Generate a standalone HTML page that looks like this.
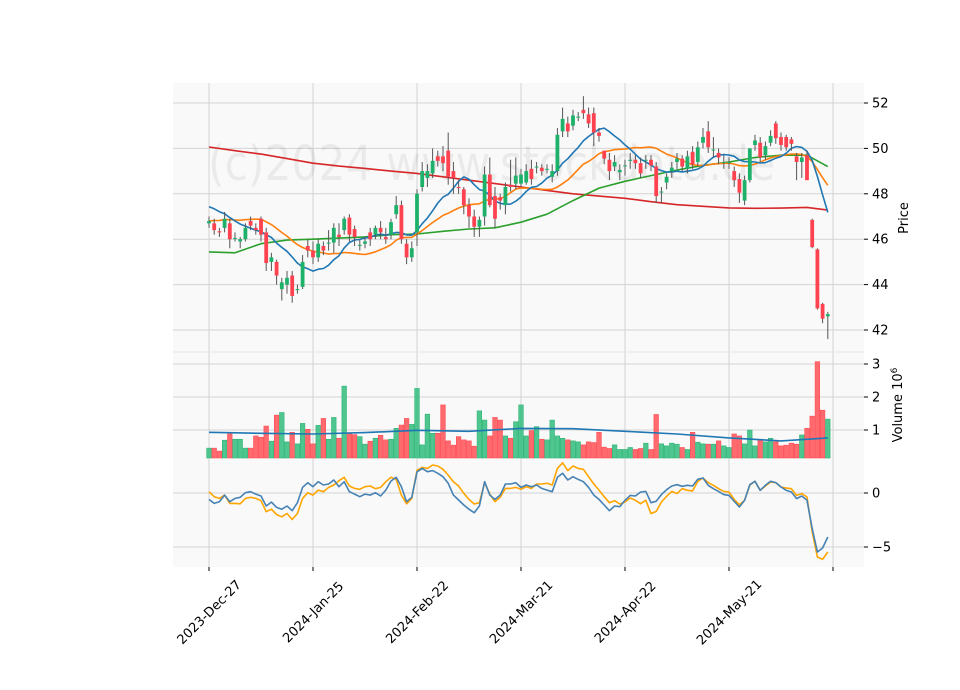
<!DOCTYPE html>
<html><head><meta charset="utf-8"><style>
html,body{margin:0;padding:0;background:#fff;}
svg{display:block;font-family:"DejaVu Sans","Liberation Sans",sans-serif;}
</style></head><body>
<svg id="chart" width="960" height="690" viewBox="0 0 960 690" xmlns="http://www.w3.org/2000/svg">
<rect x="173" y="83" width="691" height="484" fill="#f9f9f9"/>
<g id="grid"></g>
<text x="208" y="180" font-size="48" fill="#000" fill-opacity="0.06" textLength="567" lengthAdjust="spacingAndGlyphs">(c)2024 www.stockdata.de</text>
<g id="marks"></g>
<g id="axes"></g>
<text x="908" y="218" font-size="13" text-anchor="middle" transform="rotate(-90 908 218)">Price</text>
<text x="902" y="405" font-size="13" text-anchor="middle" transform="rotate(-90 902 405)">Volume  10<tspan dy="-5" font-size="9">6</tspan></text>
</svg>
<script>
const dates = ["2023-Dec-27","2024-Jan-25","2024-Feb-22","2024-Mar-21","2024-Apr-22","2024-May-21",""];
const priceTicks = [42,44,46,48,50,52];
const volTicks = [1,2,3];
const oscTicks = [0,-5];
const histClose = [46.0,46.1,46.2,46.1,46.3,46.2,46.1,46.2,46.3,46.2,47.3,47.6,47.8,47.7,47.5,47.4,47.4,47.5,47.3];
const opens = [46.7,46.7,46.35,46.5,46.7,46.05,45.9,46.0,46.8,46.5, 46.9,46.3,45.0,45.0,43.8,44.0,44.4,43.8,43.9,45.7, 45.5,45.2,45.7,45.85,45.85,46.2,46.4,46.95,46.45,45.75, 45.8,46.3,46.2,46.5,46.1,46.2,47.1,47.5,45.8,45.2, 46.3,48.3,48.7,48.9,49.65,49.65,49.9,49.0,48.3,48.2, 47.5,47.0,46.55,47.0,48.85,47.9,47.85,47.5,48.4,48.45, 48.45,48.5,49.1,49.2,49.15,49.1,48.75,49.0,50.75,51.1, 51.0,51.4,51.7,51.5,51.55,50.7,49.9,49.5,49.2,48.95, 49.25,49.45,49.5,49.35,49.5,49.5,49.2,48.1,48.5,49.0, 49.4,49.55,49.1,49.85,49.4,50.25,50.75,49.95,49.8,49.4, 49.4,49.0,48.65,47.7,48.6,50.15,50.25,49.7,50.25,51.1, 50.5,50.5,50.4,49.65,49.4,49.7,46.85,45.55,43.15,42.6];
const closes = [46.8,46.4,46.3,46.9,46.0,46.05,46.0,46.5,46.6,46.4, 46.2,44.95,45.2,44.4,44.1,44.3,43.5,43.8,45.0,45.5, 45.2,45.8,45.5,45.85,46.5,46.1,46.9,46.2,46.1,45.75, 45.9,46.0,46.5,46.3,46.0,46.75,47.5,46.0,45.2,45.6, 48.0,49.0,49.0,49.45,49.45,49.35,48.75,48.7,48.25,47.5, 47.0,46.55,46.85,48.85,47.5,46.9,47.7,48.3,48.3,48.8, 48.85,49.0,48.65,49.2,49.0,49.1,49.0,50.6,51.3,50.75, 51.45,51.4,51.55,51.1,50.7,50.55,49.55,49.0,49.4,49.05, 49.25,49.5,49.35,48.9,49.5,49.25,47.9,48.1,48.75,49.15, 49.55,49.2,49.65,49.3,50.05,50.5,50.05,49.95,49.6,49.4, 49.4,48.6,48.05,48.6,50.0,50.35,49.6,50.1,50.55,50.45, 50.15,50.05,50.2,49.4,49.6,48.6,45.65,42.95,42.5,42.7];
const highs = [47.0,46.9,46.5,47.2,46.9,46.3,46.1,46.7,47.0,46.7, 47.0,46.5,45.4,45.1,44.3,44.6,44.6,44.0,45.3,46.0, 45.9,46.0,45.9,46.4,46.7,46.7,47.0,47.1,46.6,46.0, 46.1,46.5,46.6,46.8,46.5,46.9,47.9,47.7,46.0,45.9, 48.2,49.4,49.3,50.0,49.9,50.1,50.7,49.4,48.6,48.3, 47.8,47.3,47.0,49.2,49.6,48.3,48.0,48.5,49.5,49.6, 49.1,49.3,49.5,49.4,49.3,49.3,49.3,50.9,51.8,51.4, 51.7,51.6,52.3,51.8,51.8,50.9,49.9,49.8,49.7,49.3, 49.5,49.8,49.7,49.6,49.7,49.7,49.4,48.3,48.9,49.4, 49.8,49.7,49.9,50.1,50.3,50.9,51.2,50.5,50.0,49.7, 49.6,49.2,48.9,48.8,50.0,50.6,50.5,50.3,50.8,51.2, 50.7,50.6,50.5,49.8,49.8,49.9,46.9,45.6,43.2,42.8];
const lows = [46.5,46.2,46.1,46.3,45.6,45.9,45.6,45.9,46.4,46.2, 45.9,44.6,44.6,44.0,43.3,43.6,43.2,43.6,43.8,45.2, 44.9,45.0,45.3,45.5,45.4,45.7,46.2,45.9,45.7,45.5, 45.6,45.7,46.0,46.0,45.8,46.0,46.9,45.8,44.9,45.0, 45.7,48.1,48.3,48.7,49.2,49.0,48.4,48.0,48.0,47.1, 46.5,46.1,46.1,46.6,47.4,46.5,47.3,47.1,48.1,48.2, 48.3,48.4,48.4,48.9,48.8,48.9,48.5,48.8,50.5,50.5, 50.8,51.2,51.3,50.9,50.1,50.3,49.3,48.6,49.0,48.6, 48.8,49.1,49.1,48.7,49.1,49.0,47.6,47.6,48.2,48.7, 49.1,49.0,48.9,49.1,49.2,50.0,49.8,49.6,49.3,49.1, 49.1,48.3,47.6,47.5,48.5,49.9,49.4,49.5,50.1,50.2, 49.9,49.9,49.9,48.6,48.7,48.7,45.6,42.9,42.3,41.6];
const volumes = [.45,.45,.36,.69,.88,.72,.72,.45,.45,.82, .78,1.12,.66,1.45,1.53,.64,.93,.58,1.2,1.02, .58,1.14,1.35,.72,1.38,.75,2.33,.89,.86,.80, .57,.66,.75,.84,.7,.72,1.05,1.15,1.35,1.17, 2.26,.55,1.48,.9,.9,1.76,.67,.54,.8,.7, .67,.51,1.58,1.3,.82,1.38,1.3,.82,.75,1.25, 1.76,.82,.98,1.1,.72,.7,1.3,.82,.75,.7, .67,.64,.55,.64,.62,.93,.48,.44,.55,.41, .41,.47,.41,.44,.6,.41,1.47,.58,.52,.6, .57,.47,.41,.93,.63,.58,.57,.57,.67,.52, .47,.88,.82,.58,1.0,.52,.7,.64,.75,.64, .52,.54,.6,.57,.85,1.05,1.42,3.07,1.6,1.33];
const ma50Idx = [0,5,10,15,20,25,30,35,40,45,50,55,60,65,70,75,80,85,90,95,100,105,110,115,119];
const ma50 = [45.44,45.4,45.8,45.96,46.0,46.05,46.1,46.2,46.23,46.35,46.45,46.5,46.75,47.1,47.7,48.25,48.55,48.8,49.05,49.25,49.4,49.6,49.7,49.7,49.2];
const ma200 = [50.06,49.9,49.75,49.55,49.35,49.22,49.12,49.0,48.9,48.75,48.6,48.45,48.3,48.15,48.0,47.9,47.8,47.65,47.52,47.45,47.38,47.36,47.37,47.4,47.28];
const volMaIdx = [0,10,20,30,40,50,60,70,80,90,100,110,119];
const volMa = [.93,.9,.88,.92,.99,.96,1.05,1.04,.96,.88,.76,.67,.76];
const oscBlue = [-.59,-.96,-.81,-.19,-.81,-.5,-.4,.03,.12,-.1, -.28,-1.2,-.84,-1.33,-1.5,-1.2,-1.64,-.9,.52,.95, .58,1.05,.74,.83,1.2,.58,1.05,.12,-.1,-.34, -.1,-.19,.03,-.28,.27,1.11,1.45,.58,-.81,-.4, 1.95,2.28,1.97,2.07,1.82,1.51,.9,-.19,-.65,-1.11, -1.51,-1.82,-1.2,1.05,-.19,-.59,-.19,.83,.83,.95, .52,.74,.58,.74,.43,.27,.12,1.45,1.82,1.2, 1.51,1.26,1.05,.52,-.19,-.59,-1.11,-1.64,-1.2,-1.27, -.68,-.22,-.28,.09,.15,-.9,-.77,-.15,.31,.65, .77,.62,.71,.65,1.27,1.39,.71,.4,.15,-.15, -.22,-.77,-1.3,-.68,.77,1.08,.25,.71,1.08,.96, .56,.25,.09,-.52,-.28,-.68,-3.3,-5.46,-5.09,-4.07];
const oscOrange = [.12,-.34,-.5,-.19,-.96,-.96,-1.0,-.5,-.4,-.5, -.71,-1.73,-1.5,-2.0,-2.2,-1.9,-2.45,-1.9,-.5,.03, -.19,.27,.12,.52,.74,1.14,1.45,.65,.43,.34, .58,.65,.4,.52,1.05,1.45,1.26,-.19,-1.0,-.5, 2.1,2.37,2.28,2.59,2.5,2.19,1.66,1.05,.65,-.03, -.59,-1.02,-.9,.95,-.1,-.81,-.4,.43,.43,.52, .34,.58,.43,.83,.83,.9,.74,2.28,2.8,2.07, 2.5,2.28,2.19,1.51,.83,.27,-.34,-.9,-.71,-1.02, -.83,-.46,-.68,-.99,-.68,-1.91,-1.7,-.83,-.31,.15, -.06,.4,.25,.19,1.08,1.39,.96,.71,.4,.15, .09,-.59,-1.08,-.68,.71,1.08,.25,.65,1.02,.96, .56,.46,.4,-.22,-.06,-.37,-3.6,-5.93,-6.14,-5.46];

const NS="http://www.w3.org/2000/svg";
const X0=173,X1=864, P_TOP=83,P_BOT=352, V_TOP=352,V_BOT=458, O_TOP=460,O_BOT=567;
function xs(i){return 209+5.2*i;}
function yp(v){return 103+(52-v)*22.7;}
function yv(v){return Math.min(V_BOT, 463-33*v);}
function yo(v){return 493-10.8*v;}
function mk(tag,attrs,parent){const e=document.createElementNS(NS,tag);for(const k in attrs)e.setAttribute(k,attrs[k]);parent.appendChild(e);return e;}
const grid=document.getElementById('grid'), marks=document.getElementById('marks'), axes=document.getElementById('axes');
const GC="#d3d3d3";
dates.forEach((d,k)=>{
  const x=xs(k*20);
  let g=mk('line',{x1:x,x2:x,y1:P_TOP,y2:O_BOT,stroke:GC,'stroke-width':1},grid);
  
  
  let t=mk('line',{x1:x,x2:x,y1:O_BOT,y2:O_BOT+4,stroke:'#000','stroke-width':1},axes);
  
  
  if(d){
    const cy=612;
    let lb=mk('text',{x:x,y:cy+4.5,'font-size':13,'text-anchor':'middle',transform:`rotate(-45 ${x} ${cy})`},axes);
    lb.textContent=d;
    
    
  }
});
function ytick(y,label){
  let g=mk('line',{x1:X0,x2:X1,y1:y,y2:y,stroke:GC,'stroke-width':1},grid);
  
  
  let t=mk('line',{x1:X1,x2:X1+4,y1:y,y2:y,stroke:'#000','stroke-width':1},axes);
  
  
  let lb=mk('text',{x:X1+8,y:y+4.5,'font-size':13},axes);
  lb.textContent=label;
  
  
}
priceTicks.forEach(v=>ytick(yp(v),String(v)));
volTicks.forEach(v=>ytick(463-33*v,String(v)));
oscTicks.forEach(v=>ytick(yo(v),v<0?'\u2212'+Math.abs(v):String(v)));
let sep=mk('line',{x1:X0,x2:X1,y1:P_BOT,y2:P_BOT,stroke:'#e6e6e6','stroke-width':1},grid);



volumes.forEach((v,i)=>{
  const up=closes[i]>=opens[i];
  const y=yv(v);
  let r=mk('rect',{x:xs(i)-2.3,y:y,width:4.6,height:Math.max(0,V_BOT-y),fill:up?'#3cc083':'#ff5a5f','fill-opacity':0.9,stroke:up?'#2fb575':'#ff4d55','stroke-width':0.6},marks);
  
  
});
function poly(idx,vals,yf,color,w,name){
  const pts=vals.map((v,k)=>xs(idx?idx[k]:k).toFixed(1)+','+yf(v).toFixed(1)).join(' ');
  let p=mk('polyline',{points:pts,fill:'none',stroke:color,'stroke-width':w,'stroke-linejoin':'round'},marks);
  
  
}
poly(volMaIdx,volMa,v=>463-33*v,'#1f77b4',1.6,'volume-moving-average');
const allC=histClose.concat(closes);
function sma(n){const out=[];for(let i=0;i<closes.length;i++){const j=i+histClose.length;let s=0,c=0;for(let k=Math.max(0,j-n+1);k<=j;k++){s+=allC[k];c++;}out.push(s/c);}return out;}
poly(ma50Idx,ma200,yp,'#d62728',1.6,'ma-long-line');
poly(ma50Idx,ma50,yp,'#2ca02c',1.6,'ma-50-line');
poly(null,sma(20),yp,'#ff7f0e',1.6,'ma-20-line');
poly(null,sma(10),yp,'#1f77b4',1.6,'ma-10-line');
closes.forEach((c,i)=>{
  const o=opens[i], up=c>=o, col=up?'#1db16a':'#ff424f';
  const x=xs(i);
  let w=mk('line',{x1:x,x2:x,y1:yp(highs[i]),y2:yp(lows[i]),stroke:'#555','stroke-width':1},marks);
  
  
  const top=yp(Math.max(o,c)), bot=yp(Math.min(o,c));
  let b=mk('rect',{x:x-1.9,y:top,width:3.8,height:Math.max(1,bot-top),fill:col},marks);
  
  
});
poly(null,oscOrange,yo,'#ffa500',1.6,'oscillator-orange-line');
poly(null,oscBlue,yo,'#4682b4',1.6,'oscillator-blue-line');
</script>
</body></html>
